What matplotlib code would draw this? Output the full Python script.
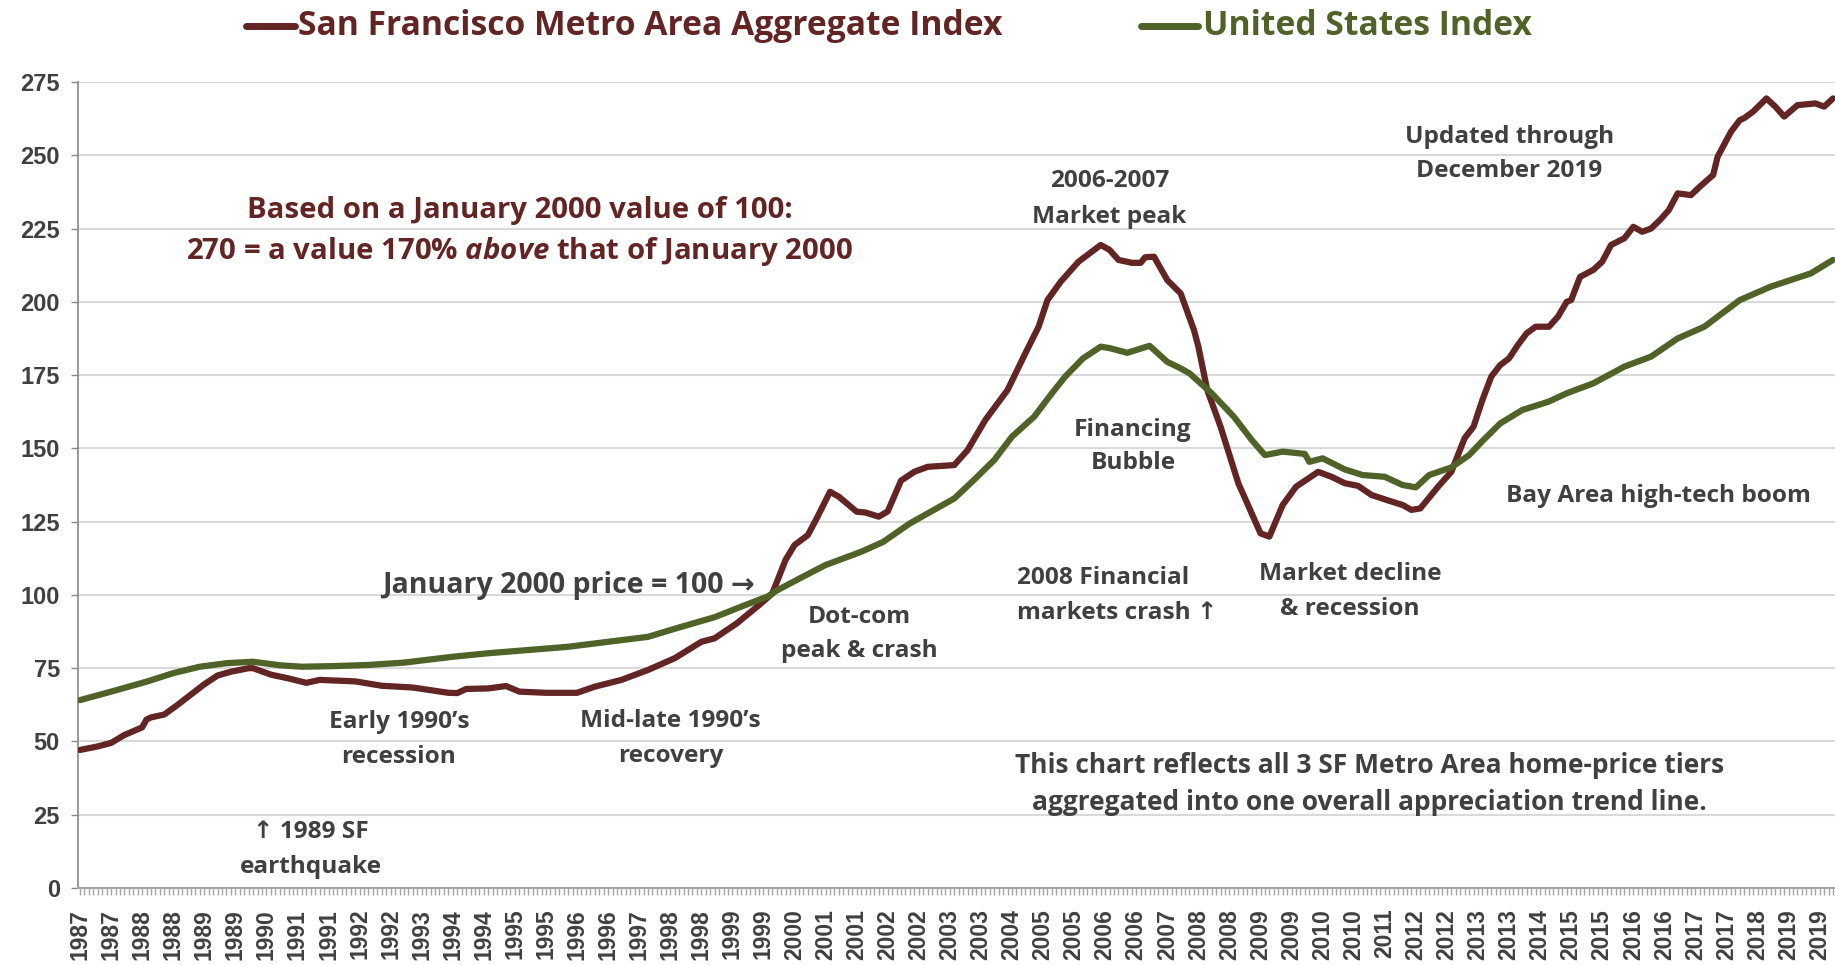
import matplotlib
matplotlib.use("Agg")
import matplotlib.pyplot as plt
from matplotlib.lines import Line2D
import numpy as np

# months counted from Jan 1987, index values (Jan 2000 = 100)
sf_month = [0, 4, 7, 10, 14, 15, 16, 19, 22, 25, 28, 31, 34, 38, 39, 43, 47, 51, 54, 62,
            68, 75, 83, 85, 87, 92, 96, 99, 105, 112, 116, 122, 128, 134, 140, 143, 148, 153, 156, 159,
            161, 164, 166, 169, 171, 175, 177, 180, 182, 185, 188, 191, 197, 200, 204, 209, 213, 216, 218, 221,
            225, 228, 230, 232, 234, 237, 239, 240, 242, 245, 248, 251, 252, 254, 257, 261, 263, 266, 268, 271,
            274, 279, 282, 285, 288, 291, 295, 298, 300, 302, 306, 309, 312, 314, 316, 318, 320, 322, 324, 326,
            328, 331, 333, 335, 336, 338, 341, 343, 345, 348, 350, 352, 354, 356, 358, 360, 363, 365, 368, 369,
            372, 374, 375, 377, 380, 382, 384, 387, 391, 393, 395]
sf_index = [47.1, 48.3, 49.5, 52.2, 54.8, 57.5, 58.2, 59.2, 62.5, 66.0, 69.5, 72.5, 73.8, 75.0, 75.0, 72.8, 71.5, 70.0, 71.0, 70.5,
            69.0, 68.4, 66.6, 66.5, 67.9, 68.1, 68.9, 67.0, 66.6, 66.6, 68.7, 71.0, 74.4, 78.4, 84.0, 85.2, 90.3, 96.5, 100.5, 112.0,
            117.0, 120.4, 126.1, 135.2, 133.5, 128.4, 128.1, 126.7, 128.5, 139.0, 142.0, 143.7, 144.3, 149.4, 159.7, 169.9, 182.4, 191.5, 200.6, 206.9,
            213.7, 217.1, 219.4, 217.7, 214.3, 213.3, 213.3, 215.2, 215.4, 207.4, 202.9, 190.4, 184.7, 169.9, 157.4, 138.1, 131.3, 121.0, 119.9, 130.7,
            136.9, 142.0, 140.3, 138.1, 137.2, 134.1, 132.1, 130.7, 129.0, 129.5, 136.9, 142.0, 153.5, 157.4, 166.5, 174.5, 178.4, 180.7, 185.3, 189.3,
            191.5, 191.5, 194.9, 200.0, 200.6, 208.5, 210.9, 213.7, 219.4, 221.7, 225.6, 223.9, 225.0, 227.9, 231.3, 237.0, 236.4, 239.3, 243.3, 249.5,
            258.0, 262.0, 262.7, 264.9, 269.4, 266.6, 263.2, 267.1, 267.7, 266.6, 269.4]

us_month = [0, 7, 15, 21, 27, 33, 39, 45, 50, 57, 65, 73, 84, 92, 101, 110, 119, 128, 135, 143,
            149, 155, 157, 162, 168, 176, 181, 187, 191, 197, 201, 206, 210, 215, 219, 222, 226, 230, 232, 236,
            241, 245, 248, 250, 255, 260, 264, 267, 271, 276, 277, 280, 285, 289, 294, 298, 301, 304, 309, 313,
            316, 320, 325, 329, 331, 335, 341, 348, 354, 360, 366, 374, 381, 390, 395]
us_index = [64.1, 67.0, 70.4, 73.3, 75.5, 76.7, 77.2, 76.0, 75.5, 75.7, 76.1, 76.9, 78.9, 80.1, 81.2, 82.3, 84.0, 85.7, 88.9, 92.4,
            96.0, 99.5, 101.5, 105.5, 110.2, 114.7, 118.1, 124.4, 127.8, 132.9, 138.6, 146.0, 154.0, 160.8, 168.8, 174.5, 180.7, 184.7, 184.2, 182.6,
            185.0, 179.5, 177.3, 175.6, 168.8, 160.8, 152.9, 147.7, 148.9, 148.1, 145.4, 146.6, 142.8, 140.9, 140.3, 137.5, 136.7, 140.9, 143.5, 147.7,
            152.5, 158.5, 163.1, 165.0, 166.0, 168.8, 172.2, 177.9, 181.3, 187.5, 191.5, 200.6, 205.2, 209.7, 214.3]

y_ticks = [0, 25, 50, 75, 100, 125, 150, 175, 200, 225, 250, 275]
start_year = 1987
n_months = 396
label_step = 7

sf_label = "San Francisco Metro Area Aggregate Index"
us_label = "United States Index"

sf_color = "#632523"
us_color = "#4f6228"
txt_color = "#404040"

plt.rcParams["font.family"] = ["Open Sans", "DejaVu Sans"]
plt.rcParams["font.weight"] = "bold"
plt.rcParams["mathtext.fontset"] = "custom"
plt.rcParams["mathtext.rm"] = "Open Sans:bold"
plt.rcParams["mathtext.it"] = "Open Sans:italic:bold"
plt.rcParams["mathtext.bf"] = "Open Sans:bold"

fig = plt.figure(figsize=(18.35, 9.65), dpi=100)
ax = fig.add_axes([78 / 1835, 77 / 965, 1757 / 1835, 806 / 965])

sf_x = start_year + np.array(sf_month) / 12
us_x = start_year + np.array(us_month) / 12
ax.plot(sf_x, sf_index, color=sf_color, lw=4.5, solid_joinstyle="round", solid_capstyle="round", zorder=3)
ax.plot(us_x, us_index, color=us_color, lw=4.5, solid_joinstyle="round", solid_capstyle="round", zorder=4)

ax.set_xlim(start_year - 0.45 / 12, start_year + 395.45 / 12)
ax.set_ylim(0, 275)

# y axis
ax.set_yticks(y_ticks)
ax.set_yticklabels([str(v) for v in y_ticks], fontfamily="Liberation Sans", fontweight="bold",
                   fontsize=17, color=txt_color)
ax.yaxis.grid(True, color="#d9d9d9", lw=1.5)
ax.set_axisbelow(True)
ax.tick_params(axis="y", length=5, width=1, color="#888888", pad=8)

# x axis: monthly minor ticks, a year label every 7 months
major = np.arange(0, n_months, label_step)
ax.set_xticks(start_year + major / 12)
ax.set_xticklabels([str(start_year + m // 12) for m in major], rotation=90,
                   fontfamily="Liberation Sans", fontweight="bold", fontsize=16.5, color=txt_color)
ax.set_xticks(start_year + np.arange(n_months) / 12, minor=True)
ax.tick_params(axis="x", which="both", length=5, width=1, color="#a6a6a6", pad=10)

for s in ["top", "right"]:
    ax.spines[s].set_visible(False)
ax.spines["left"].set_color("#888888")
ax.spines["bottom"].set_color("#a6a6a6")
ax.spines["left"].set_linewidth(1.2)
ax.spines["bottom"].set_linewidth(1.5)

# legend drawn across the top
legend_y = 0.973
fig.add_artist(Line2D([0.134, 0.161], [legend_y, legend_y], transform=fig.transFigure,
                      color=sf_color, lw=5, solid_capstyle="round"))
fig.text(0.1624, legend_y, sf_label, color=sf_color, fontsize=24.2, va="center", ha="left")
fig.add_artist(Line2D([0.622, 0.653], [legend_y, legend_y], transform=fig.transFigure,
                      color=us_color, lw=5, solid_capstyle="round"))
fig.text(0.6556, legend_y, us_label, color=us_color, fontsize=24.2, va="center", ha="left")


def note(x, y, s, size=17.6, color=txt_color, ha="center"):
    ax.text(x, y - 1.2, s, fontsize=size, color=color, ha=ha, va="center", zorder=5)


note(1995.25, 232.3, "Based on a January 2000 value of 100:", size=21.2, color=sf_color)
note(1995.25, 218.3, "270 = a value 170% $\\mathit{above}$ that of January 2000", size=21.2, color=sf_color)
note(2006.33, 242.3, "2006-2007")
note(2006.33, 230.3, "Market peak")
note(2013.84, 257.5, "Updated through")
note(2013.84, 245.9, "December 2019")
note(2006.77, 157.6, "Financing")
note(2006.77, 146.1, "Bubble")
note(2016.63, 134.9, "Bay Area high-tech boom")
note(1999.67, 104.5, "January 2000 price = 100 \u2192", size=20.5, ha="right")
note(2001.63, 93.7, "Dot-com")
note(2001.63, 82.2, "peak & crash")
note(2004.59, 106.9, "2008 Financial", ha="left")
note(2004.59, 94.9, "markets crash \u2191", ha="left")
note(2010.85, 108.5, "Market decline")
note(2010.85, 96.5, "& recession")
note(1992.99, 57.8, "Early 1990\u2019s")
note(1992.99, 45.8, "recession")
note(1998.09, 58.2, "Mid-late 1990\u2019s")
note(1998.09, 46.2, "recovery")
note(2011.21, 43.0, "This chart reflects all 3 SF Metro Area home-price tiers", size=19)
note(2011.21, 30.3, "aggregated into one overall appreciation trend line.", size=19)
note(1991.34, 20.3, "\u2191 1989 SF")
note(1991.34, 8.3, "earthquake")

fig.savefig("out.png", dpi=100)
